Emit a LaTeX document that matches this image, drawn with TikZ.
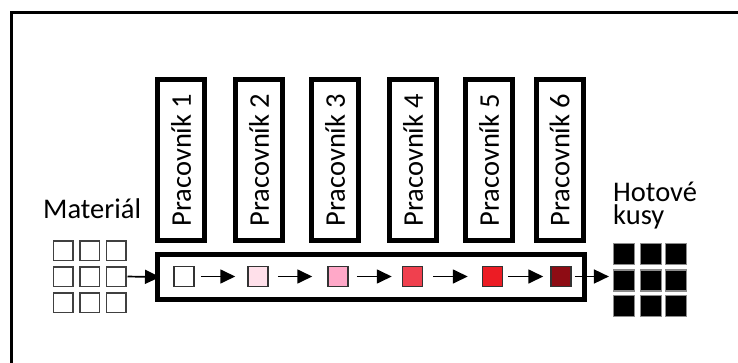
\documentclass[tikz,border=0pt]{standalone}
\usepackage{fontspec}
\setmainfont{Carlito}
\usetikzlibrary{arrows.meta}
\definecolor{st2}{HTML}{FFE0EA}
\definecolor{st3}{HTML}{FFA8C8}
\definecolor{st4}{HTML}{F0404E}
\definecolor{st5}{HTML}{EC1C24}
\definecolor{st6}{HTML}{8E0C14}
\tikzset{
  frame/.style={line width=3pt},
  worker/.style={draw, line width=5pt, minimum width=47pt, minimum height=161pt, inner sep=0pt},
  lane/.style={draw, line width=5pt, minimum width=427pt, minimum height=45pt, inner sep=0pt},
  piece/.style={draw=black!80, line width=1.5pt, minimum size=20pt, inner sep=0pt},
  stock/.style={draw=black!75, line width=1.5pt, minimum size=19.5pt, inner sep=0pt},
  done/.style={fill=black, draw=black!45, line width=1.2pt, minimum size=21pt, inner sep=0pt},
  arr/.style={line width=1.7pt, -{Triangle[length=15pt,width=14pt]}},
  lbl/.style={font=\fontsize{28.5}{23.5}\selectfont, inner sep=0pt},
  wlbl/.style={font=\fontsize{28.5}{30}\selectfont, inner sep=0pt, rotate=90}
}
\begin{document}
\begin{tikzpicture}[x=1pt,y=-1pt]
\useasboundingbox (0,0) rectangle (738,363);
\clip (0,0) rectangle (738,363);
\fill[white] (0,0) rectangle (738,363);
% outer frame
\draw[frame] (11.5,380) -- (11.5,12.5) -- (760,12.5);

% workers
\foreach \x [count=\i] in {181,259,335,413,489,559.5}{
  \node[worker] (w\i) at (\x,160) {};
  \node[wlbl] at (w\i) {Pracovník \i};
}

% production lane
\node[lane] (lane) at (371,277) {};

% pieces on the lane
\node[piece, fill=white] (s1) at (184,276.5) {};
\node[piece, fill=st2] (s2) at (258,276.5) {};
\node[piece, fill=st3] (s3) at (338,276.5) {};
\node[piece, fill=st4] (s4) at (412.5,276.5) {};
\node[piece, fill=st5] (s5) at (492.5,276.5) {};
\node[piece, fill=st6] (s6) at (561,276.5) {};

% material stock
\node[lbl, anchor=base west] (mat) at (43,218.5) {Materiál};
\foreach \c [count=\i] in {63,89.5,116}{
  \foreach \r [count=\j] in {250.5,276.5,302.5}{
    \node[stock] (m\j\i) at (\c,\r) {};
  }
}

% finished pieces (base anchor sits on the last line)
\node[lbl, anchor=base west, align=left] (fin) at (613,225) {Hotové\\kusy};
\foreach \c [count=\i] in {624,651,676}{
  \foreach \r [count=\j] in {254,280.5,306}{
    \node[done] (g\j\i) at (\c,\r) {};
  }
}

% flow arrows
\draw[arr, shorten <=1pt, shorten >=-5pt] (m23.east) -- (lane.west);
\draw[arr, shorten <=6pt, shorten >=12pt] (s1.east) -- (s2.west);
\draw[arr, shorten <=9pt, shorten >=15pt] (s2.east) -- (s3.west);
\draw[arr, shorten <=8pt, shorten >=10pt] (s3.east) -- (s4.west);
\draw[arr, shorten <=10pt, shorten >=14pt] (s4.east) -- (s5.west);
\draw[arr, shorten <=5pt, shorten >=7pt] (s5.east) -- (s6.west);
\draw[arr, shorten <=3pt, shorten >=4pt] (s6.east) -- (s6.east -| g21.west);
\end{tikzpicture}
\end{document}
